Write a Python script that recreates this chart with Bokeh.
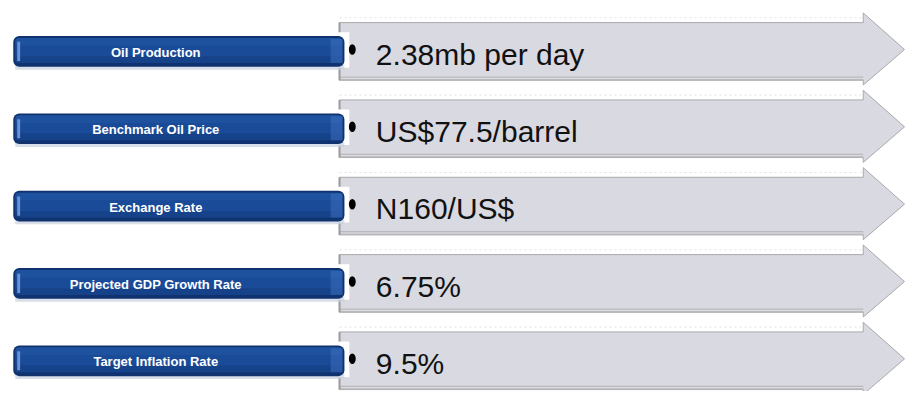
from bokeh.plotting import figure
from bokeh.models import Range1d, ColumnDataSource
from bokeh.core.properties import value
from bokeh.embed import file_html
from bokeh.resources import INLINE

# ---- data ----
labels = ["Oil Production", "Benchmark Oil Price", "Exchange Rate",
          "Projected GDP Growth Rate", "Target Inflation Rate"]
values = ["2.38mb per day", "US$77.5/barrel", "N160/US$", "6.75%", "9.5%"]

# ---- layout (image pixel coordinates) ----
row0, step = 53.0, 80.5
yc = [row0 + step * i for i in range(len(labels))]
n = len(yc)

bar_l, bar_r, bar_h = 13, 350, 16
box_l, shaft_r, tip_x = 345, 878, 920
box_half = 30

p = figure(width=906, height=391, x_range=Range1d(0, 922), y_range=Range1d(407, 0),
           output_backend="svg", toolbar_location=None, x_axis_type=None, y_axis_type=None,
           min_border=0, outline_line_color=None, background_fill_color="white",
           border_fill_color="white")
p.grid.visible = False

# ---- arrows ----
xs, ys = [], []
for y in yc:
    t, b = y - box_half, y + box_half
    xs.append([box_l, shaft_r, shaft_r, tip_x, shaft_r, shaft_r, box_l])
    ys.append([t, t, t - 10, y - 2, b + 5, b, b])
p.patches(xs, ys, fill_color="#d9d9e1", line_color="#a9a9ad", line_width=1)
# bottom ledge of arrow shaft
p.quad(left=[box_l] * n, right=[shaft_r] * n, top=[y + box_half - 4 for y in yc],
       bottom=[y + box_half for y in yc], fill_color="#b9b9bd", line_color=None)
p.segment(x0=[box_l] * n, x1=[shaft_r] * n, y0=[y + box_half - 2 for y in yc],
          y1=[y + box_half - 2 for y in yc], line_color="#e4e4e8", line_width=1)
# left edge of box
p.segment(x0=[box_l] * n, x1=[box_l] * n, y0=[y - box_half for y in yc],
          y1=[y + box_half for y in yc], line_color="#9a9a9e", line_width=2)
# faint dotted line above each arrow
p.segment(x0=[box_l] * n, x1=[shaft_r] * n, y0=[y - box_half - 5 for y in yc],
          y1=[y - box_half - 5 for y in yc], line_color="#e2e2e6", line_width=1, line_dash="2 3")

# white block behind bar end
p.quad(left=[341] * n, right=[355] * n, top=[y - 20 for y in yc], bottom=[y + 17 for y in yc],
       fill_color="white", line_color=None)

# ---- blue bars ----
p.quad(left=[bar_l + 2] * n, right=[bar_r] * n, top=[y + bar_h - 2 for y in yc],
       bottom=[y + bar_h + 3 for y in yc], fill_color="#c9d1de", fill_alpha=0.7, line_color=None)
p.quad(left=[bar_l] * n, right=[bar_r] * n, top=[y - bar_h for y in yc], bottom=[y + bar_h for y in yc],
       fill_color="#10336f", line_color=None, border_radius=6)
p.quad(left=[bar_l + 2] * n, right=[bar_r - 2] * n, top=[y - bar_h + 2 for y in yc],
       bottom=[y + bar_h - 4 for y in yc], fill_color="#1a4b98", line_color=None, border_radius=4)
p.quad(left=[bar_l + 2] * n, right=[bar_r - 2] * n, top=[y - bar_h + 2 for y in yc],
       bottom=[y - 6 for y in yc], fill_color="#2256a4", fill_alpha=0.6, line_color=None, border_radius=4)
p.quad(left=[bar_l + 2] * n, right=[bar_r - 2] * n, top=[y + 5 for y in yc],
       bottom=[y + bar_h - 4 for y in yc], fill_color="#153f84", fill_alpha=0.7, line_color=None)
p.quad(left=[bar_l + 4] * n, right=[bar_l + 7] * n, top=[y - bar_h + 6 for y in yc],
       bottom=[y + bar_h - 6 for y in yc], fill_color="#6a93d6", line_color=None)
p.quad(left=[bar_r - 14] * n, right=[bar_r - 2] * n, top=[y - bar_h + 3 for y in yc],
       bottom=[y + bar_h - 4 for y in yc], fill_color="#3d70c0", fill_alpha=0.5, line_color=None)

# bar labels
src = ColumnDataSource(dict(x=[158] * n, y=[y + 1 for y in yc], t=labels))
p.text(x="x", y="y", text="t", source=src, text_color="white", text_font=value("Liberation Sans"),
       text_font_style="bold", text_font_size="13px", text_align="center", text_baseline="middle")

# bullets
p.ellipse(x=[358] * n, y=[y - 2 for y in yc], width=7, height=11, fill_color="black", line_color=None)

# values
vsrc = ColumnDataSource(dict(x=[382] * n, y=[y + 3 for y in yc], t=values))
p.text(x="x", y="y", text="t", source=vsrc, text_color="#111111",
       text_font=value("Liberation Sans"),
       text_font_size="30px", text_align="left", text_baseline="alphabetic")

open("out.html", "w").write(file_html(p, INLINE))
